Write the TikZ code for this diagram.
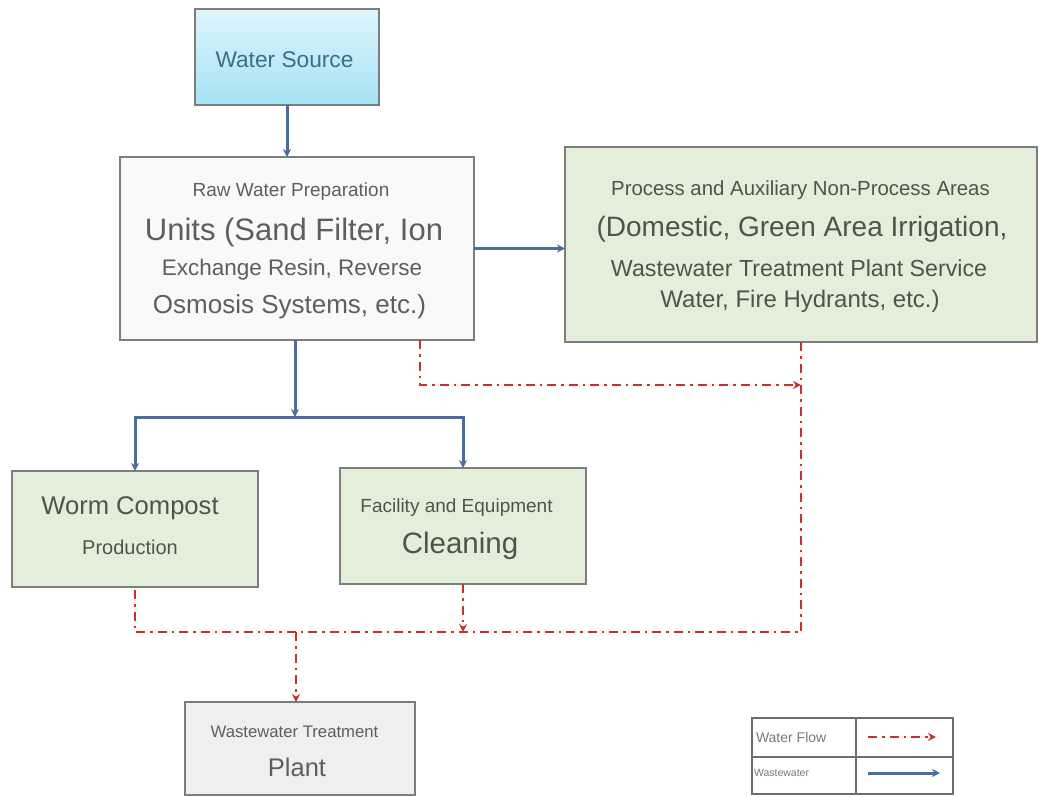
\documentclass[tikz,border=0pt]{standalone}
\usepackage{fontspec}
\setmainfont{Liberation Sans}
\usetikzlibrary{arrows.meta}
\definecolor{boxedge}{HTML}{7D7D7D}
\definecolor{greenfill}{HTML}{E3EFDA}
\definecolor{rawfill}{HTML}{F9F9F9}
\definecolor{wwfill}{HTML}{EFEFEF}
\definecolor{bluearrow}{HTML}{4A6D9E}
\definecolor{redflow}{HTML}{C8322E}
\definecolor{txtgray}{HTML}{5E5E5E}
\definecolor{txtgreen}{HTML}{4A5649}
\definecolor{txtblue}{HTML}{3F6E82}
\definecolor{srctop}{HTML}{DDF5FC}
\definecolor{srcbot}{HTML}{A6E2F6}
\definecolor{legendedge}{HTML}{6E6E6E}
\definecolor{legendtxt}{HTML}{7A7A7A}
\newcommand{\fsz}[1]{\fontsize{#1}{#1}\selectfont}
\begin{document}
\begin{tikzpicture}[x=1pt,y=-1pt,
  boxshape/.style={draw=boxedge, line width=2.4pt, inner sep=0pt, outer sep=0pt, rectangle},
  lbl/.style={inner sep=0pt, outer sep=0pt, anchor=center},
  wline/.style={draw=bluearrow, line width=3pt},
  wflow/.style={wline, -{Stealth[length=8pt,width=8pt]}},
  rline/.style={draw=redflow, line width=2.8pt, dash pattern=on 9pt off 5pt on 2.5pt off 5pt},
  rflow/.style={rline, -{Stealth[length=8pt,width=8pt]}}
]
\useasboundingbox (0,0) rectangle (1039,796);
\fill[white] (0,0) rectangle (1039,796);

% boxes
\node[boxshape, top color=srctop, bottom color=srcbot, minimum width=184pt, minimum height=96pt] (src) at (287,57) {};
\node[boxshape, fill=rawfill, minimum width=354pt, minimum height=183pt] (raw) at (297,248.5) {};
\node[boxshape, fill=greenfill, minimum width=472pt, minimum height=195pt] (green) at (801,244.5) {};
\node[boxshape, fill=greenfill, minimum width=246pt, minimum height=116pt] (worm) at (135,529) {};
\node[boxshape, fill=greenfill, minimum width=246pt, minimum height=116pt] (facility) at (463,526) {};
\node[boxshape, fill=wwfill, minimum width=230pt, minimum height=93pt] (wwtp) at (300,748.5) {};

% texts
\node[lbl, text=txtblue, font=\fsz{22.7}] (srct) at (284.5,60) {Water Source};

\node[lbl, text=txtgray, font=\fsz{19}] (rawt1) at (291,192) {Raw Water Preparation};
\node[lbl, text=txtgray, font=\fsz{31}] (rawt2) at (294,232) {Units (Sand Filter, Ion};
\node[lbl, text=txtgray, font=\fsz{22.5}] (rawt3) at (292,270) {Exchange Resin, Reverse};
\node[lbl, text=txtgray, font=\fsz{26}] (rawt4) at (289.5,307) {Osmosis Systems, etc.)};

\node[lbl, text=txtgreen, font=\fsz{20.4}] (grt1) at (800.5,190) {Process and Auxiliary Non-Process Areas};
\node[lbl, text=txtgreen, font=\fsz{28}] (grt2) at (802,229) {(Domestic, Green Area Irrigation,};
\node[lbl, text=txtgreen, font=\fsz{23.2}] (grt3) at (799,268) {Wastewater Treatment Plant Service};
\node[lbl, text=txtgreen, font=\fsz{24}] (grt4) at (800,301) {Water, Fire Hydrants, etc.)};

\node[lbl, text=txtgreen, font=\fsz{25.6}] (wormt1) at (130,508) {Worm Compost};
\node[lbl, text=txtgreen, font=\fsz{20}] (wormt2) at (130,547) {Production};

\node[lbl, text=txtgreen, font=\fsz{19}] (fact1) at (456.5,508) {Facility and Equipment};
\node[lbl, text=txtgreen, font=\fsz{29.5}] (fact2) at (460,546) {Cleaning};

\node[lbl, text=txtgray, font=\fsz{16.7}] (wwt1) at (294.5,732) {Wastewater Treatment};
\node[lbl, text=txtgray, font=\fsz{25.5}] (wwt2) at (297,767) {Plant};

% blue connectors
\draw[wflow] (src.south) -- (src.south |- raw.north);
\draw[wflow] (raw.east) -- (raw.east -| green.west);
\coordinate (split) at (295,417);
\draw[wflow] (raw.south -| split) -- (split);
\draw[wflow] (split) -| (worm.north);
\draw[wflow] (split) -| (facility.north);

% red connectors
\coordinate (rawdrop) at (420,385);
\coordinate (collect) at (296,632);
\draw[rflow] (raw.south -| rawdrop) -- (rawdrop) -- (rawdrop -| green.south);
\draw[rline] (green.south) -- (green.south |- collect) -- (worm.south |- collect) -- (worm.south);
\draw[rflow] (facility.south) -- (facility.south |- collect);
\draw[rflow] (collect) -- (collect |- wwtp.north);

% legend
\node[draw=legendedge, line width=1.8pt, fill=white, minimum width=201pt, minimum height=76pt, inner sep=0pt, outer sep=0pt] (legend) at (852.5,756) {};
\coordinate (lgdiv) at (856,757);
\draw[draw=legendedge, line width=1.6pt] (legend.north -| lgdiv) -- (legend.south -| lgdiv);
\draw[draw=legendedge, line width=1.6pt] (legend.west |- lgdiv) -- (legend.east |- lgdiv);
\node[lbl, anchor=west, text=legendtxt, font=\fsz{14}] (lgt1) at (756,737) {Water Flow};
\node[lbl, anchor=west, text=legendtxt, font=\fsz{10.5}] (lgt2) at (754,773) {Wastewater};
\coordinate (lgr1) at (868,737);
\coordinate (lgr2) at (936,737);
\coordinate (lgb1) at (868,773);
\coordinate (lgb2) at (940,773);
\draw[rflow] (lgr1) -- (lgr2);
\draw[wflow] (lgb1) -- (lgb2);
\end{tikzpicture}
\end{document}
